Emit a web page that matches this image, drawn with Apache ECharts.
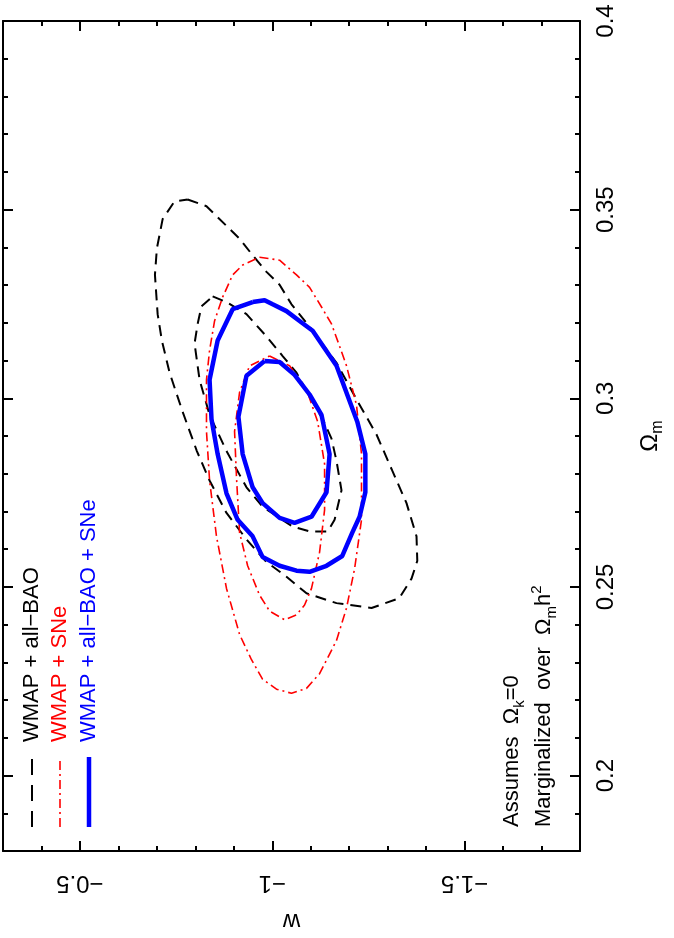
<!DOCTYPE html>
<html>
<head>
<meta charset="utf-8">
<script src="https://cdn.jsdelivr.net/npm/echarts@6/dist/echarts.min.js"></script>
<style>
  html, body { margin: 0; padding: 0; background: #fff; }
  #chart { width: 674px; height: 938px; }
</style>
</head>
<body>
<div id="chart"></div>
<script>
// w (horizontal, reversed) vs Omega_m (vertical), plot drawn rotated like the paper figure
var wMajorTicks = [-1.5, -1, -0.5];
var wMinorTicks = [-1.7, -1.6, -1.4, -1.3, -1.2, -1.1, -0.9, -0.8, -0.7, -0.6, -0.4];
var omMajorTicks = [0.2, 0.25, 0.3, 0.35, 0.4];
var omMinorTicks = [0.19, 0.21, 0.22, 0.23, 0.24, 0.26, 0.27, 0.28, 0.29, 0.31, 0.32, 0.33, 0.34, 0.36, 0.37, 0.38, 0.39];

var seriesNames = ['WMAP + all−BAO', 'WMAP + SNe', 'WMAP + all−BAO + SNe'];

// contours: [w, Omega_m]
var baoOuter = [
  [-0.780,0.3527],[-0.829,0.3509],[-0.881,0.3457],[-0.915,0.3423],[-0.949,0.3379],[-0.985,0.3335],
  [-1.019,0.3301],[-1.050,0.3249],[-1.105,0.3179],[-1.167,0.3094],[-1.219,0.2997],[-1.271,0.2904],
  [-1.312,0.2808],[-1.349,0.2722],[-1.375,0.2634],[-1.377,0.2569],[-1.362,0.2522],[-1.330,0.2470],
  [-1.258,0.2444],[-1.167,0.2457],[-1.089,0.2483],[-1.037,0.2527],[-0.985,0.2566],[-0.933,0.2626],
  [-0.881,0.2696],[-0.837,0.2782],[-0.804,0.2860],[-0.767,0.2964],[-0.733,0.3068],[-0.713,0.3153],
  [-0.702,0.3223],[-0.695,0.3327],[-0.700,0.3397],[-0.715,0.3475],[-0.746,0.3522],[-0.780,0.3527]
];
var baoInner = [
  [-0.845,0.3270],[-0.881,0.3255],[-0.933,0.3223],[-0.985,0.3164],[-1.027,0.3112],[-1.063,0.3068],
  [-1.105,0.2990],[-1.131,0.2945],[-1.154,0.2893],[-1.167,0.2834],[-1.180,0.2756],[-1.162,0.2678],
  [-1.144,0.2647],[-1.097,0.2647],[-1.053,0.2660],[-0.975,0.2712],[-0.933,0.2764],[-0.881,0.2860],
  [-0.837,0.2956],[-0.811,0.3049],[-0.798,0.3145],[-0.806,0.3197],[-0.816,0.3244],[-0.845,0.3270]
];
var sneOuter = [
  [-0.967,0.3374],[-1.019,0.3366],[-1.063,0.3327],[-1.097,0.3294],[-1.128,0.3242],[-1.154,0.3197],
  [-1.175,0.3138],[-1.193,0.3086],[-1.219,0.2982],[-1.232,0.2852],[-1.232,0.2678],[-1.214,0.2548],
  [-1.193,0.2444],[-1.167,0.2358],[-1.123,0.2270],[-1.089,0.2231],[-1.050,0.2218],[-1.011,0.2229],
  [-0.975,0.2255],[-0.946,0.2307],[-0.915,0.2374],[-0.881,0.2496],[-0.855,0.2634],[-0.837,0.2782],
  [-0.829,0.2912],[-0.829,0.3049],[-0.837,0.3127],[-0.850,0.3205],[-0.871,0.3268],[-0.897,0.3327],
  [-0.923,0.3353],[-0.967,0.3374]
];
var sneInner = [
  [-0.993,0.3112],[-1.045,0.3086],[-1.089,0.3023],[-1.118,0.2938],[-1.136,0.2826],[-1.136,0.2704],
  [-1.123,0.2592],[-1.102,0.2496],[-1.084,0.2452],[-1.063,0.2426],[-1.032,0.2413],[-0.993,0.2436],
  [-0.967,0.2478],[-0.936,0.2556],[-0.915,0.2644],[-0.907,0.2790],[-0.902,0.2912],[-0.915,0.3016],
  [-0.941,0.3086],[-0.993,0.3112]
];
var allOuter = [
  [-0.949,0.3255],[-0.980,0.3260],[-1.001,0.3249],[-1.037,0.3231],[-1.071,0.3205],[-1.105,0.3179],
  [-1.131,0.3140],[-1.167,0.3086],[-1.221,0.2938],[-1.242,0.2852],[-1.242,0.2751],[-1.227,0.2686],
  [-1.208,0.2644],[-1.182,0.2582],[-1.141,0.2556],[-1.097,0.2540],[-1.063,0.2543],[-1.019,0.2556],
  [-0.975,0.2579],[-0.949,0.2634],[-0.910,0.2678],[-0.881,0.2748],[-0.858,0.2852],[-0.842,0.2945],
  [-0.837,0.3049],[-0.858,0.3153],[-0.897,0.3236],[-0.949,0.3255]
];
var allInner = [
  [-0.980,0.3099],[-1.019,0.3096],[-1.058,0.3062],[-1.097,0.3010],[-1.128,0.2956],[-1.149,0.2852],
  [-1.141,0.2751],[-1.102,0.2686],[-1.058,0.2670],[-1.019,0.2683],[-0.975,0.2722],[-0.949,0.2764],
  [-0.923,0.2852],[-0.912,0.2951],[-0.933,0.3060],[-0.980,0.3099]
];

var FONT = 'Liberation Sans';
var blackDash = [11, 7];
var redDash = [9, 4, 2, 4];

function fmtW(v) {
  return String(v).replace('-', '−');
}

function wAxis(pos, ticks, len, main) {
  return {
    type: 'value', position: pos, min: -1.8, max: -0.3, inverse: true,
    axisLine: { show: main, onZero: false, lineStyle: { color: '#000', width: 2 } },
    axisTick: { show: true, inside: true, length: len, customValues: ticks, lineStyle: { color: '#000', width: 2 } },
    axisLabel: main && pos === 'bottom' ? {
      show: true, customValues: ticks, rotate: 180, margin: 20,
      fontFamily: FONT, fontSize: 24, color: '#000', formatter: fmtW
    } : { show: false },
    splitLine: { show: false },
    name: main && pos === 'bottom' ? 'w' : '',
    nameLocation: 'middle', nameRotate: 180, nameGap: 58,
    nameTextStyle: { fontFamily: FONT, fontSize: 24, color: '#000' }
  };
}

function omAxis(pos, ticks, len, main) {
  return {
    type: 'value', position: pos, min: 0.18, max: 0.4,
    axisLine: { show: main, onZero: false, lineStyle: { color: '#000', width: 2 } },
    axisTick: { show: true, inside: true, length: len, customValues: ticks, lineStyle: { color: '#000', width: 2 } },
    axisLabel: main && pos === 'right' ? {
      show: true, customValues: ticks, rotate: 90, margin: 14,
      fontFamily: FONT, fontSize: 24, color: '#000'
    } : { show: false },
    splitLine: { show: false },
    name: main && pos === 'right' ? 'Ω{sub|m}' : '',
    nameLocation: 'middle', nameRotate: 90, nameGap: 54,
    nameTextStyle: {
      fontFamily: FONT, fontSize: 24, color: '#000', lineHeight: 32,
      rich: { sub: { fontFamily: FONT, fontSize: 16, verticalAlign: 'bottom', color: '#000' } }
    }
  };
}

function contour(name, data, color, width, dash) {
  return {
    name: name, type: 'line', data: data, xAxisIndex: 0, yAxisIndex: 0,
    showSymbol: false, symbol: 'none', smooth: false, silent: true,
    lineStyle: { color: color, width: width, type: dash }
  };
}

function rotText(x, y, text, color) {
  return {
    type: 'text', x: x, y: y, rotation: Math.PI / 2,
    style: {
      text: text, fill: color,
      fontFamily: FONT, fontSize: 22, lineHeight: 30,
      align: 'left', verticalAlign: 'middle',
      rich: {
        sub: { fontFamily: FONT, fontSize: 15, verticalAlign: 'bottom', fill: color },
        sup: { fontFamily: FONT, fontSize: 15, verticalAlign: 'top', fill: color }
      }
    }
  };
}

var chart = echarts.init(document.getElementById('chart'));
chart.setOption({
  animation: false,
  backgroundColor: '#fff',
  grid: { left: 3, right: 93, top: 21, bottom: 70, containLabel: false },
  xAxis: [
    wAxis('bottom', wMajorTicks, 10, true),
    wAxis('bottom', wMinorTicks, 5, false),
    wAxis('top', wMajorTicks, 10, true),
    wAxis('top', wMinorTicks, 5, false)
  ],
  yAxis: [
    omAxis('right', omMajorTicks, 10, true),
    omAxis('right', omMinorTicks, 5, false),
    omAxis('left', omMajorTicks, 10, true),
    omAxis('left', omMinorTicks, 5, false)
  ],
  series: [
    contour(seriesNames[0], baoOuter, '#000', 2, blackDash),
    contour(seriesNames[0], baoInner, '#000', 2, blackDash),
    contour(seriesNames[1], sneOuter, '#f00', 1.6, redDash),
    contour(seriesNames[1], sneInner, '#f00', 1.6, redDash),
    contour(seriesNames[2], allOuter, '#00f', 4.5, 'solid'),
    contour(seriesNames[2], allInner, '#00f', 4.5, 'solid')
  ],
  graphic: [
    { type: 'line', shape: { x1: 32, y1: 827, x2: 32, y2: 757 }, style: { stroke: '#000', lineWidth: 2, lineDash: [16, 10] } },
    { type: 'line', shape: { x1: 60, y1: 827, x2: 60, y2: 757 }, style: { stroke: '#f00', lineWidth: 1.6, lineDash: redDash } },
    { type: 'line', shape: { x1: 89, y1: 827, x2: 89, y2: 757 }, style: { stroke: '#00f', lineWidth: 4.5 } },
    rotText(32, 742, seriesNames[0], '#000'),
    rotText(60, 742, seriesNames[1], '#f00'),
    rotText(89, 742, seriesNames[2], '#00f'),
    rotText(512, 827, 'Assumes  Ω{sub|k}=0', '#000'),
    rotText(544, 827, 'Marginalized  over  Ω{sub|m}h{sup|2}', '#000')
  ]
});
</script>
</body>
</html>
